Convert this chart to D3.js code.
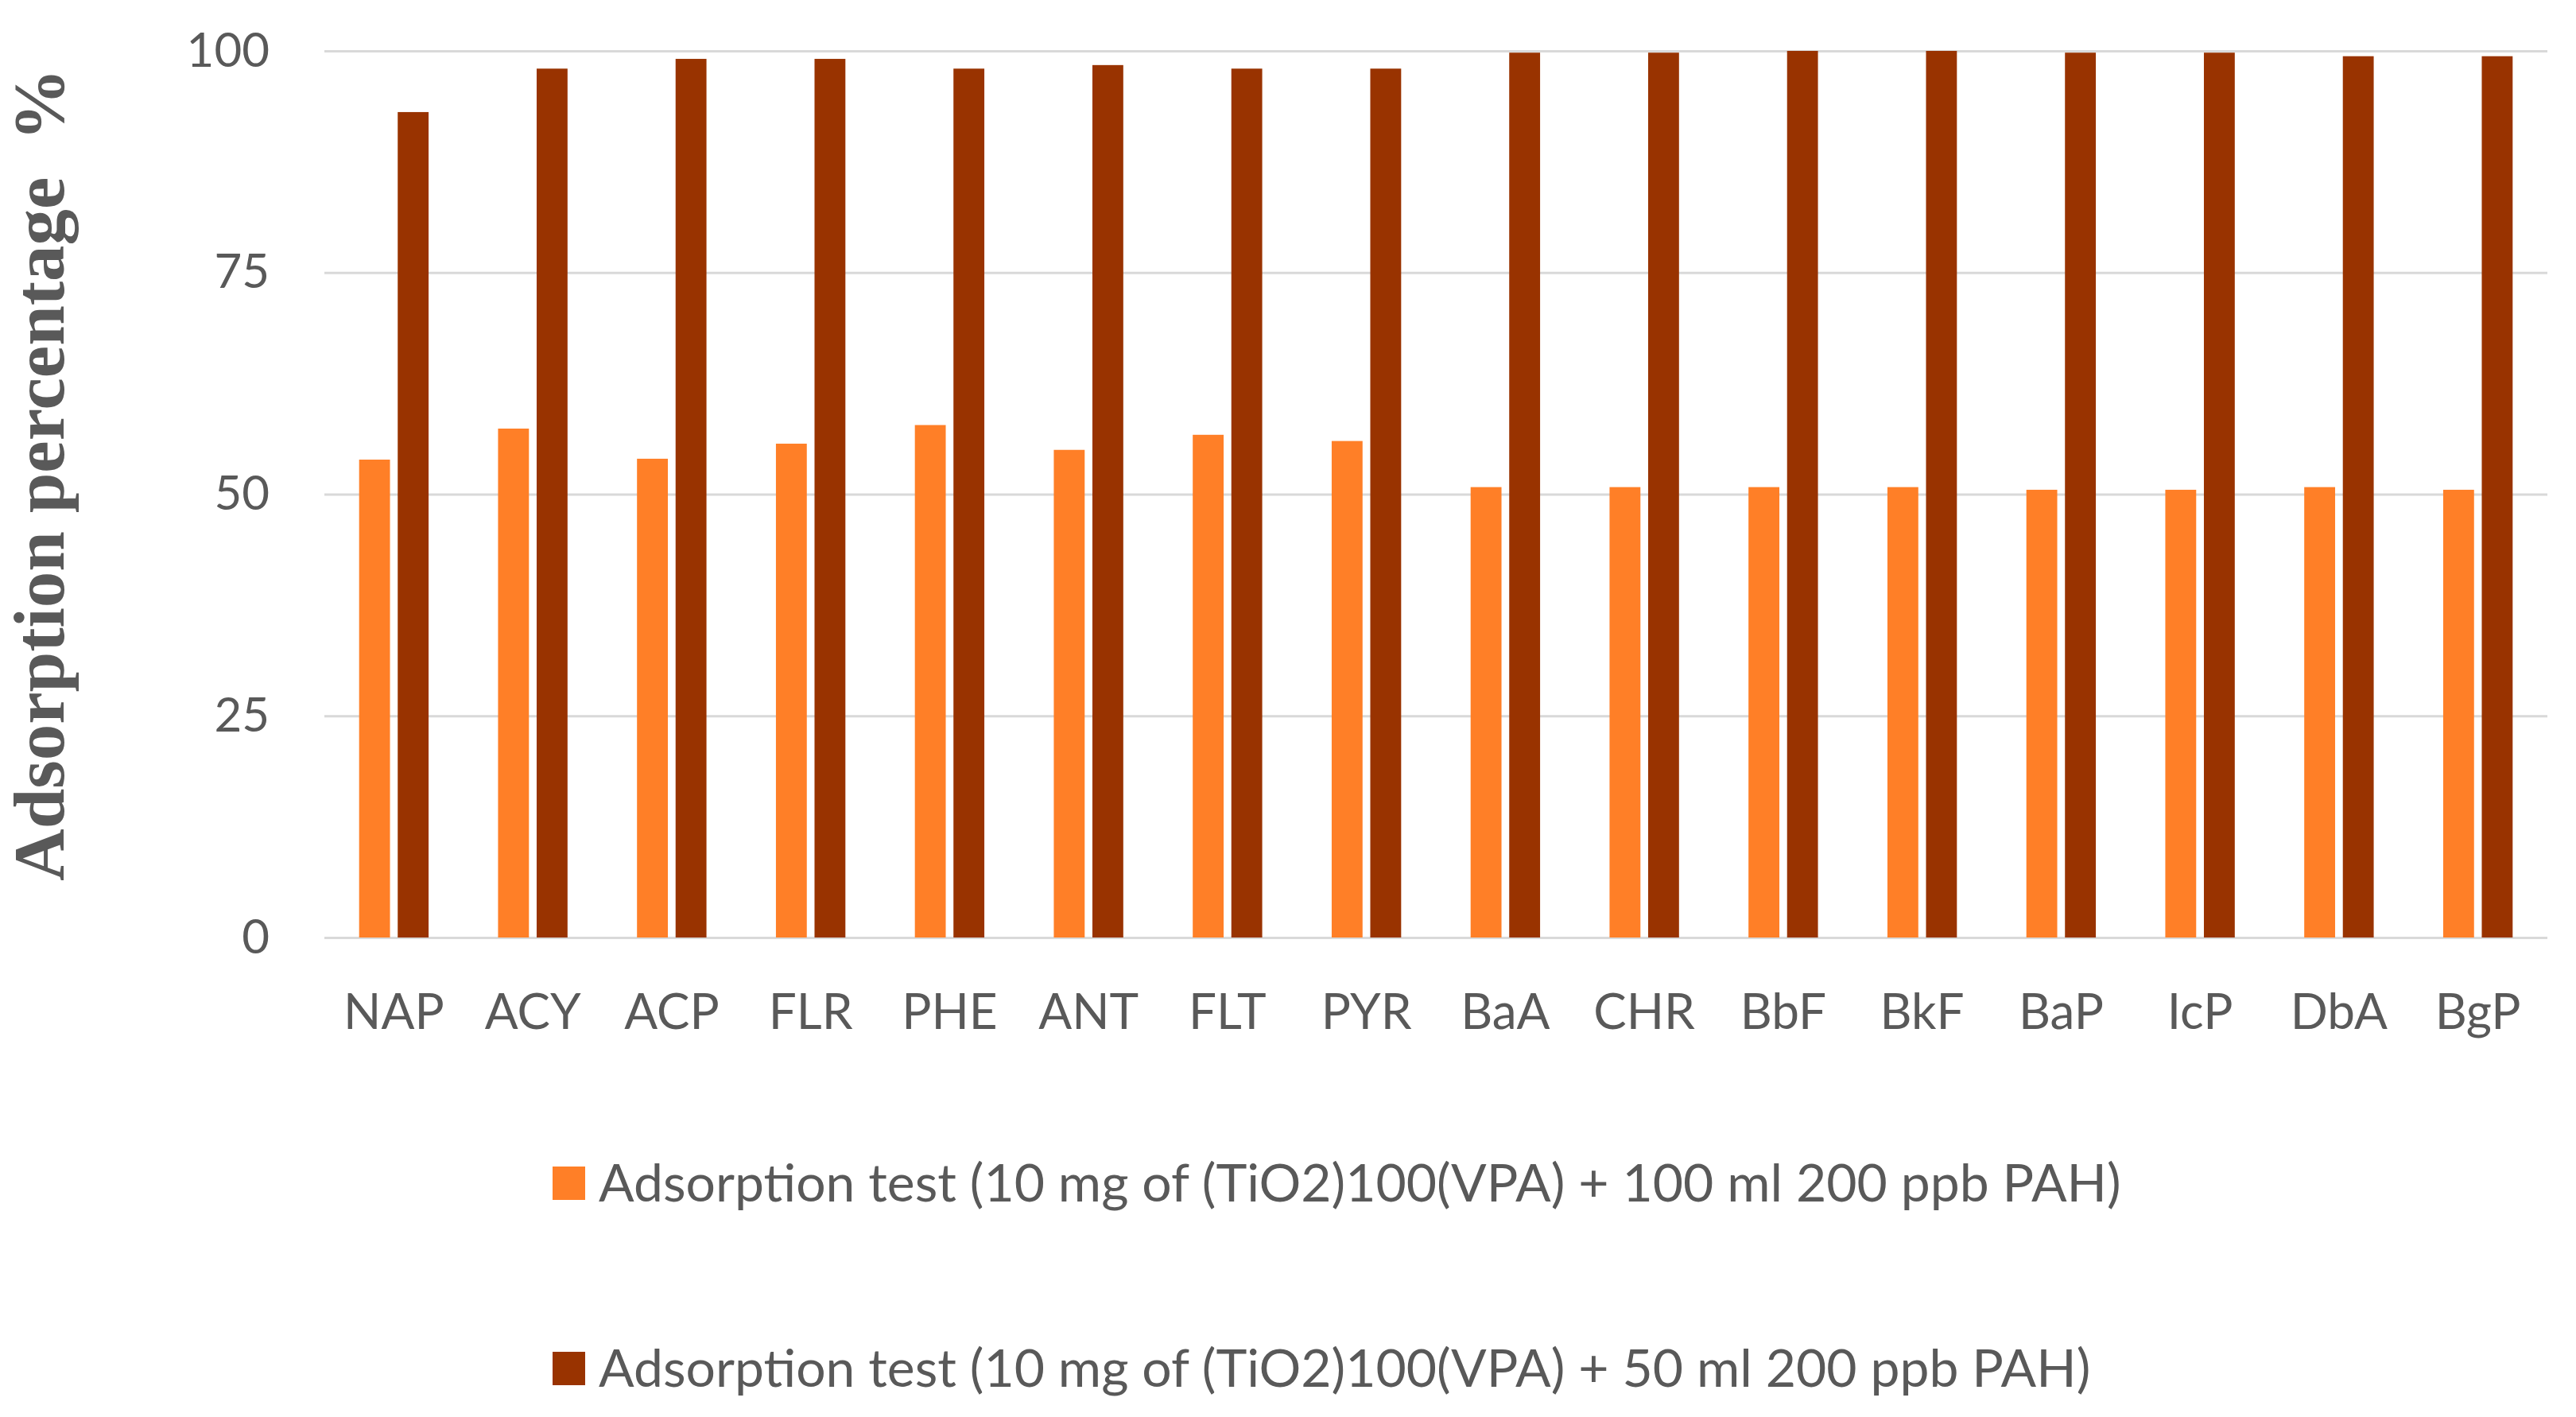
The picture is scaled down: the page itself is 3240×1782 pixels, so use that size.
<!DOCTYPE html>
<html>
<head>
<meta charset="utf-8">
<script src="https://cdn.jsdelivr.net/npm/d3@7"></script>
<style>
  body { margin: 0; background: #fff; }
  text { font-family: Lato, "Open Sans", sans-serif; fill: #595959; }
</style>
</head>
<body>
<svg id="chart"></svg>
<script>
// ------------------ data ---------------------
let categories = ['NAP','ACY','ACP','FLR','PHE','ANT','FLT','PYR','BaA','CHR','BbF','BkF','BaP','IcP','DbA','BgP'];
let series100ml = [53.9,57.4,54.0,55.7,57.8,55.0,56.7,56.0,50.8,50.8,50.8,50.8,50.5,50.5,50.8,50.5];
let series50ml = [93.1,98.0,99.1,99.1,98.0,98.4,98.0,98.0,99.8,99.8,100,100,99.8,99.8,99.4,99.4];
let yTicks = [0,25,50,75,100];
let seriesNames = [
    'Adsorption test (10 mg of (TiO2)100(VPA) + 100 ml 200 ppb PAH)',
    'Adsorption test (10 mg of (TiO2)100(VPA) + 50 ml 200 ppb PAH)'
];
let colors = ['#ff7f27', '#993300'];

// ------------------ layout ---------------------
let svgWidth = 3240;
let svgHeight = 1782;
let plotLeft = 408, plotRight = 3204, plotTop = 64, plotBottom = 1179;

let svg = d3.select('#chart')
    .attr('width', svgWidth)
    .attr('height', svgHeight);

let x0 = d3.scaleBand()
    .domain(categories)
    .range([plotLeft, plotRight])
    .paddingInner(0.5)
    .paddingOuter(0.25);

let x1 = d3.scaleBand()
    .domain([0, 1])
    .range([0, x0.bandwidth()])
    .paddingInner(0.2);

let yScale = d3.scaleLinear()
    .domain([0, 100])
    .range([plotBottom, plotTop]);

// y axis with gridlines
let y_axis = d3.axisLeft(yScale)
    .tickValues(yTicks)
    .tickSize(-(plotRight - plotLeft))
    .tickPadding(69);

let gy = svg.append('g')
    .attr('transform', 'translate(' + plotLeft + ',0)')
    .call(y_axis);
gy.select('.domain').remove();
gy.selectAll('line').attr('stroke', '#d9d9d9').attr('stroke-width', 3);
gy.selectAll('text')
    .style('font-size', '60px')
    .attr('fill', '#595959');

// bars
let groups = svg.selectAll('g.cat')
    .data(categories)
    .enter()
    .append('g')
    .attr('class', 'cat')
    .attr('transform', function(d) { return 'translate(' + x0(d) + ',0)'; });

groups.selectAll('rect')
    .data(function(d, i) { return [series100ml[i], series50ml[i]]; })
    .enter()
    .append('rect')
    .attr('x', function(d, j) { return x1(j); })
    .attr('y', function(d) { return yScale(d); })
    .attr('width', x1.bandwidth())
    .attr('height', function(d) { return plotBottom - yScale(d); })
    .attr('fill', function(d, j) { return colors[j]; });

// x axis labels
let x_axis = d3.axisBottom(x0).tickSize(0).tickPadding(0);
let gx = svg.append('g')
    .attr('transform', 'translate(0,' + plotBottom + ')')
    .call(x_axis);
gx.select('.domain').remove();
gx.selectAll('text')
    .attr('y', 115)
    .attr('dy', 0)
    .style('font-size', '62px')
    .attr('fill', '#595959');

// y axis title
svg.append('text')
    .attr('transform', 'translate(80,597) rotate(-90)')
    .attr('text-anchor', 'middle')
    .style('font-family', '"Liberation Serif", "Times New Roman", serif')
    .style('font-weight', 'bold')
    .style('font-size', '91px')
    .style('white-space', 'pre')
    .attr('fill', '#595959')
    .text('Adsorption percentage  %');

// legend
let legendY = [1488, 1721];
let legend = svg.selectAll('g.legend')
    .data(seriesNames)
    .enter()
    .append('g')
    .attr('class', 'legend')
    .attr('transform', function(d, i) { return 'translate(695,' + legendY[i] + ')'; });

legend.append('rect')
    .attr('x', 0)
    .attr('y', -21)
    .attr('width', 41)
    .attr('height', 42)
    .attr('fill', function(d, i) { return colors[i]; });

legend.append('text')
    .attr('x', 58)
    .attr('y', 23)
    .style('font-size', '66px')
    .attr('fill', '#595959')
    .text(function(d) { return d; });
</script>
</body>
</html>
